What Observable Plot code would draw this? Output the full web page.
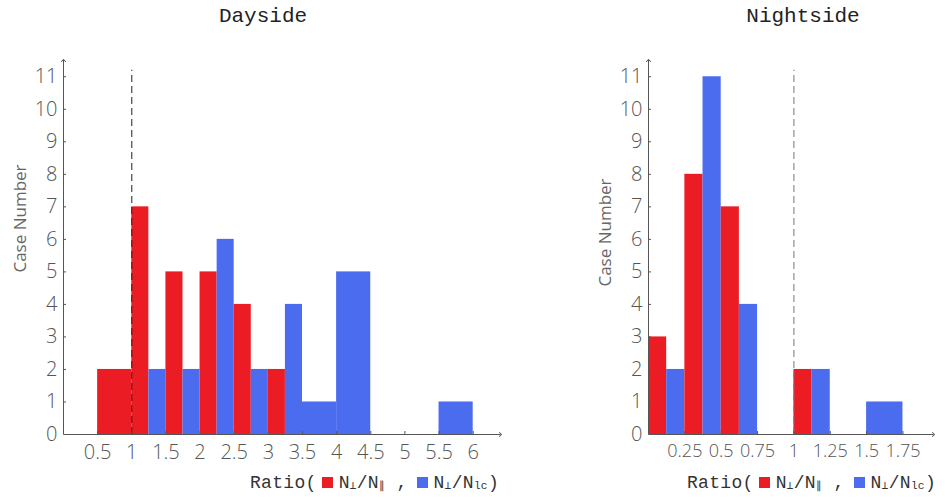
<!DOCTYPE html>
<html>
<head>
<meta charset="utf-8">
<script src="https://cdn.jsdelivr.net/npm/d3@7"></script>
<script src="https://cdn.jsdelivr.net/npm/@observablehq/plot@0.6"></script>
<style>
  body { margin: 0; background: #fff; }
  #wrap { position: relative; width: 945px; height: 504px; overflow: hidden; font-family: "Liberation Mono", "DejaVu Sans Mono", monospace; }
  .title { position: absolute; top: 5px; font-size: 21px; color: #222; transform: translateX(-50%); white-space: nowrap; }
  .xlab { position: absolute; top: 473px; font-size: 18px; letter-spacing: 0.3px; color: #333; white-space: nowrap; }
  .sq { display: inline-block; width: 11px; height: 11px; margin: 0 6px 0 5px; vertical-align: 0px; }
  .xlab sub { font-size: 0.62em; vertical-align: -0.1em; }
  .panel { position: absolute; top: 40px; }
</style>
</head>
<body>
<div id="wrap">
  <div class="title" style="left:263px">Dayside</div>
  <div class="title" style="left:803px">Nightside</div>
  <div class="panel" id="day" style="left:0px"></div>
  <div class="panel" id="night" style="left:580px"></div>
  <div class="xlab" style="left:250px">Ratio(<span class="sq" style="background:#ec1c24"></span>N<sub>⊥</sub>/N<sub>∥</sub> ,<span class="sq" style="background:#4b6cee;margin-left:9px"></span>N<sub>⊥</sub>/N<sub>lc</sub>)</div>
  <div class="xlab" style="left:687px">Ratio(<span class="sq" style="background:#ec1c24"></span>N<sub>⊥</sub>/N<sub>∥</sub> ,<span class="sq" style="background:#4b6cee;margin-left:9px"></span>N<sub>⊥</sub>/N<sub>lc</sub>)</div>
</div>
<script>
// Histogram bins (left edges) and case counts for each ratio
const dayBins = [0.5, 1, 1.5, 2, 2.5, 3, 3.5, 4, 4.5, 5, 5.5];
const dayPerpPar = [2, 7, 5, 5, 4, 2, 0, 0, 0, 0, 0];   // N⊥/N∥
const dayPerpLc  = [0, 2, 2, 6, 2, 4, 1, 5, 0, 0, 1];   // N⊥/Nlc
const dayTicks = [0.5, 1, 1.5, 2, 2.5, 3, 3.5, 4, 4.5, 5, 5.5, 6];

const nightBins = [0, 0.25, 0.5, 0.75, 1, 1.25, 1.5];
const nightPerpPar = [3, 8, 7, 0, 2, 0, 0];
const nightPerpLc  = [2, 11, 4, 0, 2, 0, 1];
const nightTicks = [0.25, 0.5, 0.75, 1, 1.25, 1.5, 1.75];

const countTicks = [0, 1, 2, 3, 4, 5, 6, 7, 8, 9, 10, 11];
const seriesNames = ["N⊥/N∥", "N⊥/Nlc"];
const seriesColors = ["#ec1c24", "#4b6cee"];

// Each bin is split in half when both ratios have cases, otherwise one bar fills it
function binRects(bins, binWidth, a, b) {
  const rows = [];
  bins.forEach((x0, i) => {
    const both = a[i] > 0 && b[i] > 0;
    if (a[i] > 0) rows.push({x1: x0, x2: both ? x0 + binWidth / 2 : x0 + binWidth, count: a[i], series: seriesNames[0]});
    if (b[i] > 0) rows.push({x1: both ? x0 + binWidth / 2 : x0, x2: x0 + binWidth, count: b[i], series: seriesNames[1]});
  });
  return rows;
}

function histogram({rows, ticks, xmax, width, height, ml, mr, mt, mb, dashColor, xTickSpacing, xTickSize, labelDy}) {
  const frameW = width - ml - mr;
  const frameH = height - mt - mb;
  const fmt = d => `${d}`;
  const svg = Plot.plot({
    width, height,
    marginLeft: ml, marginRight: mr, marginTop: mt, marginBottom: mb,
    x: {domain: [0, xmax], axis: null},
    y: {domain: [0, 11.5], axis: null},
    color: {domain: seriesNames, range: seriesColors},
    style: {fontFamily: "'Open Sans', sans-serif", fontSize: "20px", color: "#555", background: "#fff", overflow: "visible"},
    marks: [
      Plot.rect(rows, {x1: "x1", x2: "x2", y1: 0, y2: "count", fill: "series"}),
      Plot.ruleX([1], {y1: 0, y2: 11.2, stroke: dashColor, strokeWidth: 1, strokeDasharray: "7,4"}),
      Plot.link([0], {x1: 0, x2: xmax, y1: 0, y2: 0, stroke: "#555", strokeWidth: 1, markerEnd: "arrow"}),
      Plot.link([0], {x1: 0, x2: 0, y1: 0, y2: 11.5, stroke: "#555", strokeWidth: 1, markerEnd: "arrow"}),
      Plot.ruleY(countTicks.slice(1), {insetRight: frameW - 3, stroke: "#555"}),
      Plot.ruleX(ticks, {insetTop: frameH - 3, stroke: "#555"}),
      Plot.axisY({ticks: countTicks, tickFormat: fmt, tickSize: 0, tickPadding: 6, label: null, fill: "#555", fontWeight: 300, ariaLabel: "count-ticks"}),
      Plot.axisX({ticks, tickFormat: fmt, tickSize: 0, tickPadding: 10, label: null, fill: "#555", fontWeight: 300, fontSize: xTickSize, ariaLabel: "ratio-ticks"}),
      Plot.text(["Case Number"], {frameAnchor: "left", textAnchor: "middle", rotate: -90, dx: -43, dy: labelDy, fontSize: 17, fill: "#666", ariaLabel: "count-label"})
    ]
  });
  // widen the spacing of the ratio tick labels and of the axis title
  d3.select(svg).selectAll("g[aria-label='ratio-ticks'] text").style("letter-spacing", xTickSpacing);
  d3.select(svg).selectAll("g[aria-label='count-ticks'] text").style("letter-spacing", "1px");
  d3.select(svg).selectAll("g[aria-label='count-label'] text").style("letter-spacing", "0.8px");
  return svg;
}

document.getElementById("day").append(histogram({
  rows: binRects(dayBins, 0.5, dayPerpPar, dayPerpLc),
  ticks: dayTicks, xmax: 6.4,
  width: 530, height: 440, ml: 63, mr: 30, mt: 20, mb: 46,
  dashColor: "#222", xTickSpacing: "2px", xTickSize: 20, labelDy: -29
}));

document.getElementById("night").append(histogram({
  rows: binRects(nightBins, 0.25, nightPerpPar, nightPerpLc),
  ticks: nightTicks, xmax: 1.96,
  width: 365, height: 440, ml: 68, mr: 12, mt: 20, mb: 46,
  dashColor: "#777", xTickSpacing: "0px", xTickSize: 18, labelDy: -15
}));
</script>
</body>
</html>
